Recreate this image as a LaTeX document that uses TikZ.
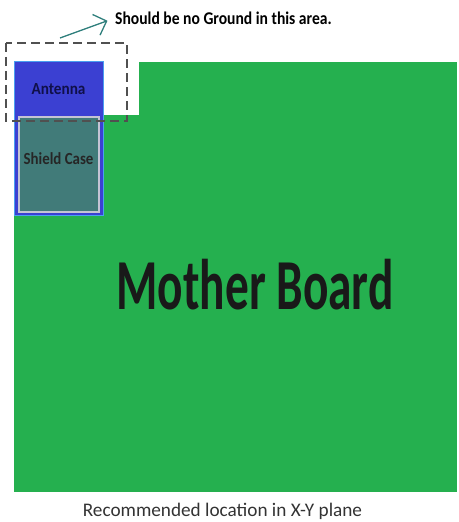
\documentclass[tikz,border=0pt]{standalone}
\usepackage{fontspec}
\setmainfont{Carlito}
\usepackage{tikz}
\usetikzlibrary{calc,positioning,arrows.meta}
\definecolor{BoardGreen}{HTML}{25B04F}
\definecolor{AntennaBlue}{HTML}{3B40D2}
\definecolor{ShieldTeal}{HTML}{417B79}
\definecolor{FrameBlue}{HTML}{4A9FF0}
\definecolor{EdgeGrey}{HTML}{C4C4D4}
\definecolor{TextNavy}{HTML}{10104A}
\definecolor{ArrowTeal}{HTML}{2F7F7C}
\definecolor{DashGrey}{HTML}{505050}

\begin{document}
\begin{tikzpicture}[x=1bp,y=-1bp,
    partlabel/.style={font=\bfseries\fontsize{17}{19}\selectfont, text=TextNavy},
    keepout/.style={draw=DashGrey, line width=1.6bp, dash pattern=on 9bp off 5bp}]
  \useasboundingbox (0,0) rectangle (459,522);
  % board with the cut-out corner
  \fill[BoardGreen] (14,62) rectangle (457,492);
  \fill[white] (103,61) rectangle (139,115);
  % antenna and shield case
  \draw[FrameBlue, fill=AntennaBlue, line width=1bp] (14,62) rectangle (103,215);
  \fill[AntennaBlue] (15.5,211) rectangle (101.5,214);
  \node[partlabel] (antenna) at (58.5,89) {\scalebox{0.9}[1]{Antenna}};
  \draw[EdgeGrey, fill=ShieldTeal, line width=2bp] (19,117) rectangle (99,212);
  \node[partlabel, text=black!85] (shield) at (58.5,159) {\scalebox{0.88}[1]{Shield Case}};
  % keep-out area
  \draw[keepout] (6,43) rectangle (127,121);
  \coordinate (tail) at (60,38);
  \node[anchor=west, inner sep=0pt, font=\bfseries\fontsize{18}{20}\selectfont] (note) at (115,18)
    {\scalebox{0.87}[1]{Should be no Ground in this area.}};
  \draw[ArrowTeal, line width=1.3bp, shorten >=8bp, -{Straight Barb[length=11bp,width=22bp]}] (tail) -- (note.west);
  % labels
  \node[font=\bfseries\fontsize{72}{80}\selectfont, text=black!90] (board) at (255,285)
    {\scalebox{0.66}[1]{Mother Board}};
  \node[font=\fontsize{19.3}{23}\selectfont, text=black!80] (caption) at (222.5,511)
    {Recommended location in X-Y plane};
\end{tikzpicture}
\end{document}
